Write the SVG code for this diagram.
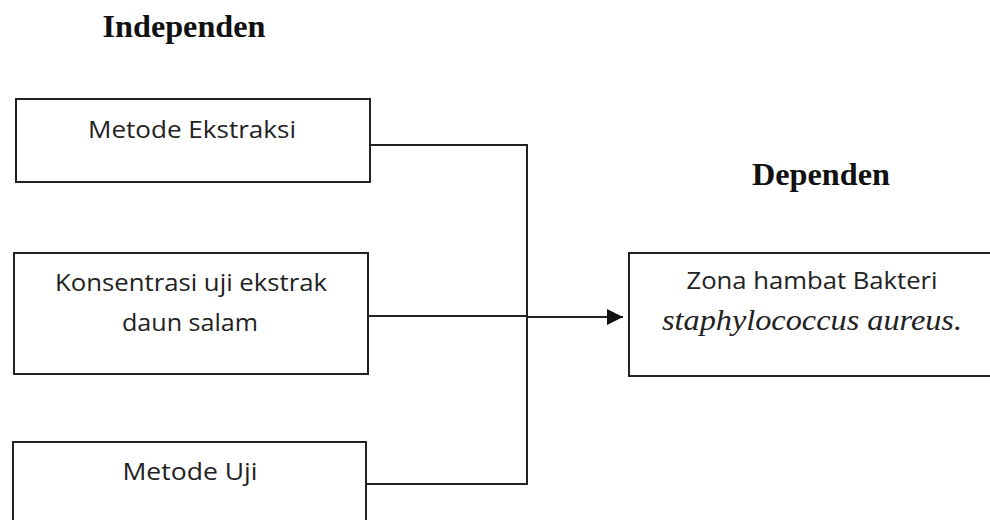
<svg xmlns="http://www.w3.org/2000/svg" width="990" height="520" viewBox="0 0 990 520">
<defs>
<marker id="arr" markerUnits="userSpaceOnUse" markerWidth="18" markerHeight="18" refX="16" refY="8" orient="auto">
<path d="M0,0 L16,8 L0,16 Z" fill="#111"/>
</marker>
<style>
.box{fill:#fff;stroke:#222;stroke-width:2}
.lbl{font-family:"Open Sans","Liberation Sans",sans-serif;font-size:23px;fill:#222;text-anchor:middle}
.hd{font-family:"Liberation Serif","Times New Roman",serif;font-size:32px;font-weight:bold;fill:#111;text-anchor:middle}
.it{font-family:"Liberation Serif","Times New Roman",serif;font-size:29px;font-style:italic;fill:#222;text-anchor:middle}
.ln{fill:none;stroke:#222;stroke-width:2}
</style>
</defs>
<rect width="990" height="520" fill="#fff"/>
<text class="hd" x="184" y="37" textLength="163" lengthAdjust="spacingAndGlyphs">Independen</text>
<text class="hd" x="821" y="185" textLength="138" lengthAdjust="spacingAndGlyphs">Dependen</text>
<g id="connectors">
<path class="ln" d="M370,145 H527 V484 H366"/>
<path class="ln" d="M368,316 H527"/>
<path class="ln" d="M527,317 H623" marker-end="url(#arr)"/>
</g>
<g id="n1">
<rect class="box" x="16" y="99" width="354" height="83"/>
<text class="lbl" x="192" y="138" textLength="208" lengthAdjust="spacingAndGlyphs">Metode Ekstraksi</text>
</g>
<g id="n2">
<rect class="box" x="14" y="253" width="354" height="121"/>
<text class="lbl" x="191" y="291" textLength="272" lengthAdjust="spacingAndGlyphs">Konsentrasi uji ekstrak</text>
<text class="lbl" x="190" y="331" textLength="136" lengthAdjust="spacingAndGlyphs">daun salam</text>
</g>
<g id="n3">
<rect class="box" x="13" y="442" width="353" height="90"/>
<text class="lbl" x="190" y="480" textLength="135" lengthAdjust="spacingAndGlyphs">Metode Uji</text>
</g>
<g id="n4">
<rect class="box" x="629" y="253" width="370" height="123"/>
<text class="lbl" x="812" y="289" textLength="251" lengthAdjust="spacingAndGlyphs">Zona hambat Bakteri</text>
<text class="it" x="812" y="330" textLength="300" lengthAdjust="spacingAndGlyphs">staphylococcus aureus.</text>
</g>
</svg>
